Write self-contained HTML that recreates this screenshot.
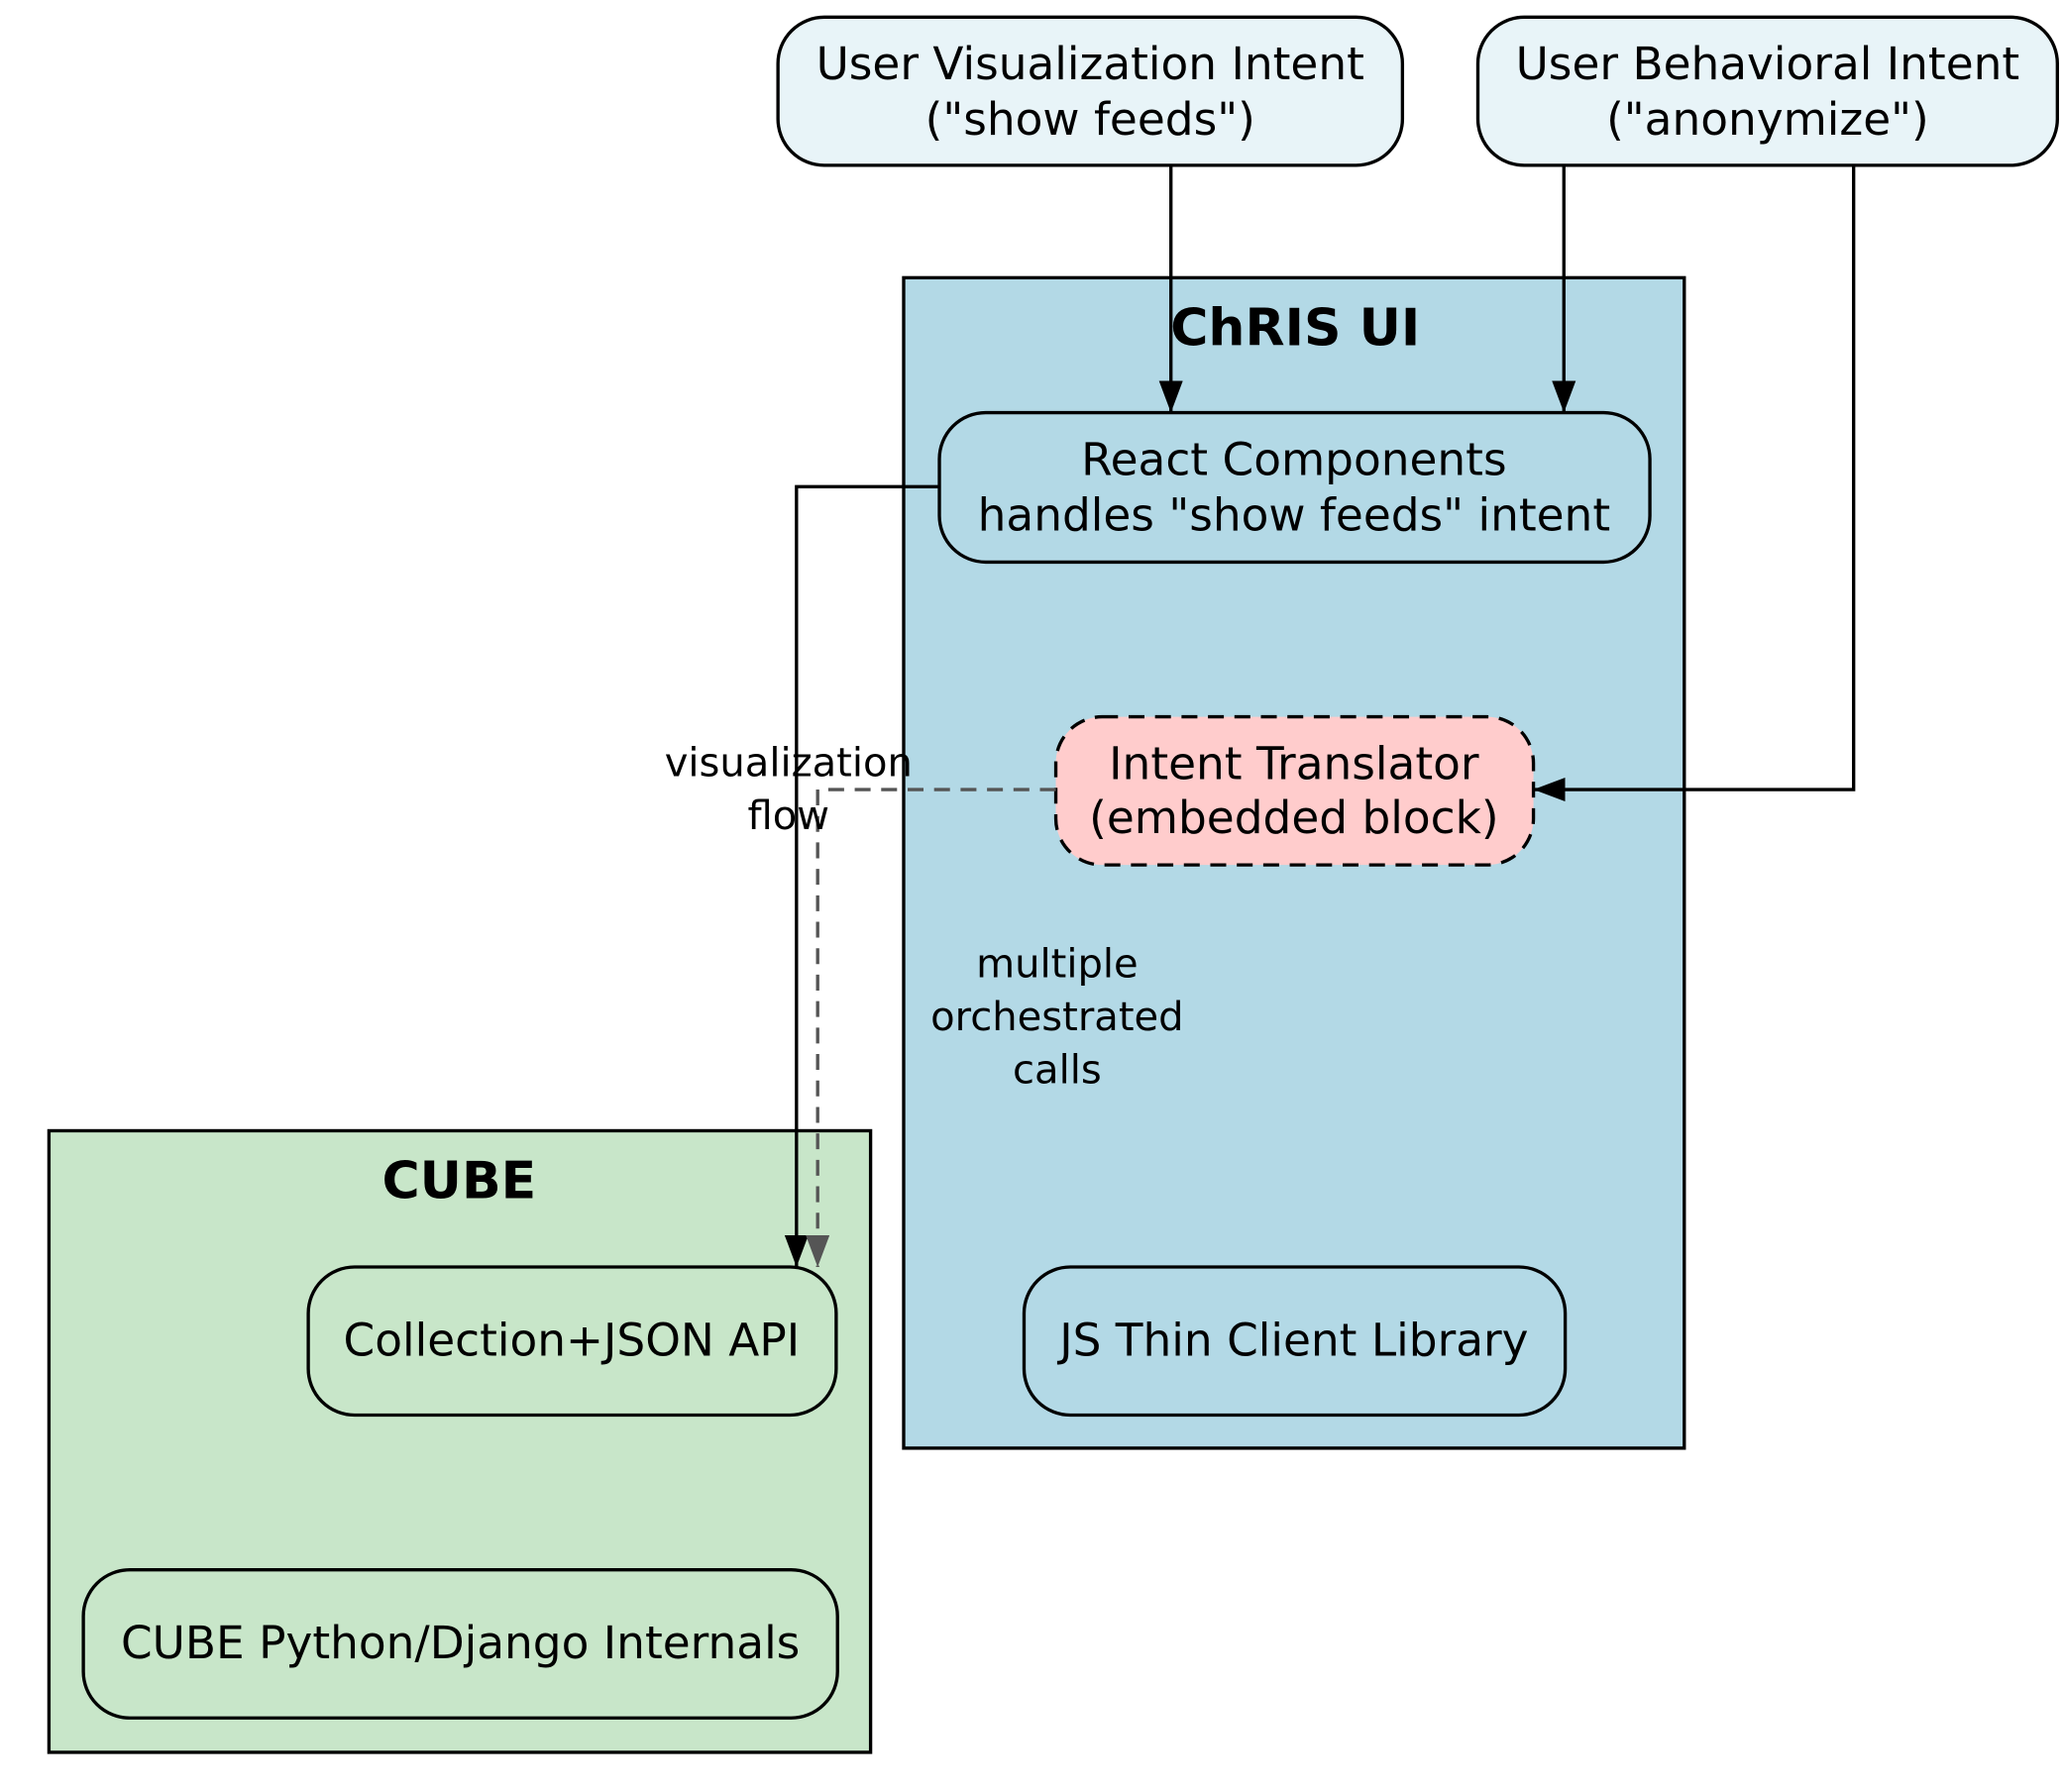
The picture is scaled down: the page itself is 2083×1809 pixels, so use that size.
<!DOCTYPE html>
<html><head><meta charset="utf-8"><style>
html,body{margin:0;padding:0;background:#fff;}
svg{display:block;}
text{font-family:"DejaVu Sans","Liberation Sans",sans-serif;}
</style></head><body>
<svg width="2083" height="1809" viewBox="0 0 1560 1355" preserveAspectRatio="none" xmlns="http://www.w3.org/2000/svg">
<defs>
<marker id="ab" markerWidth="26" markerHeight="20" refX="24" refY="9" orient="auto" markerUnits="userSpaceOnUse" viewBox="0 0 26 20"><path d="M0,0 L24,9 L0,18 z" fill="#000"/></marker>
<marker id="ag" markerWidth="26" markerHeight="20" refX="24" refY="9" orient="auto" markerUnits="userSpaceOnUse" viewBox="0 0 26 20"><path d="M0,0 L24,9 L0,18 z" fill="#555"/></marker>
</defs>
<rect x="683" y="210" width="590" height="885" fill="#b3d9e6" stroke="#000" stroke-width="2.5"/>
<text x="979" y="261" font-size="39" font-weight="bold" text-anchor="middle">ChRIS UI</text>
<rect x="37" y="855" width="621" height="470" fill="#c8e6c9" stroke="#000" stroke-width="2.5"/>
<text x="347" y="906" font-size="39" font-weight="bold" text-anchor="middle">CUBE</text>

<g stroke="#000" stroke-width="2.5">
<rect x="588" y="13" width="472" height="112" rx="35" fill="#e8f4f8"/>
<rect x="1117" y="13" width="438" height="112" rx="35" fill="#e8f4f8"/>
<rect x="710" y="312" width="537" height="113" rx="35" fill="#b3d9e6"/>
<rect x="798" y="542" width="361" height="112" rx="35" fill="#ffcccc" stroke-dasharray="12,8"/>
<rect x="774" y="958" width="409" height="112" rx="35" fill="#b3d9e6"/>
<rect x="233" y="958" width="399" height="112" rx="35" fill="#c8e6c9"/>
<rect x="63" y="1187" width="570" height="112" rx="35" fill="#c8e6c9"/>
</g>
<g font-size="34" text-anchor="middle" fill="#000">
<text x="824" y="60">User Visualization Intent</text>
<text x="824" y="102">("show feeds")</text>
<text x="1336" y="60">User Behavioral Intent</text>
<text x="1336" y="102">("anonymize")</text>
<text x="978" y="359">React Components</text>
<text x="978" y="401">handles "show feeds" intent</text>
<text x="978" y="589">Intent Translator</text>
<text x="978" y="630">(embedded block)</text>
<text x="978" y="1025">JS Thin Client Library</text>
<text x="432" y="1025">Collection+JSON API</text>
<text x="348" y="1254">CUBE Python/Django Internals</text>
</g>
<g fill="none" stroke="#000" stroke-width="2.5">
<path d="M885,125 V312" marker-end="url(#ab)"/>
<path d="M1182,125 V312" marker-end="url(#ab)"/>
<path d="M1401,125 V597 H1159" marker-end="url(#ab)"/>
<path d="M710,368 H602 V958" marker-end="url(#ab)"/>
<path d="M798,597 H618 V958" stroke="#555" stroke-dasharray="12,8" marker-end="url(#ag)"/>
</g>
<g font-size="30" text-anchor="middle" fill="#000">
<text x="596" y="587">visualization</text>
<text x="596" y="627">flow</text>
<text x="799" y="739">multiple</text>
<text x="799" y="779">orchestrated</text>
<text x="799" y="819">calls</text>
</g>
</svg>
</body></html>
